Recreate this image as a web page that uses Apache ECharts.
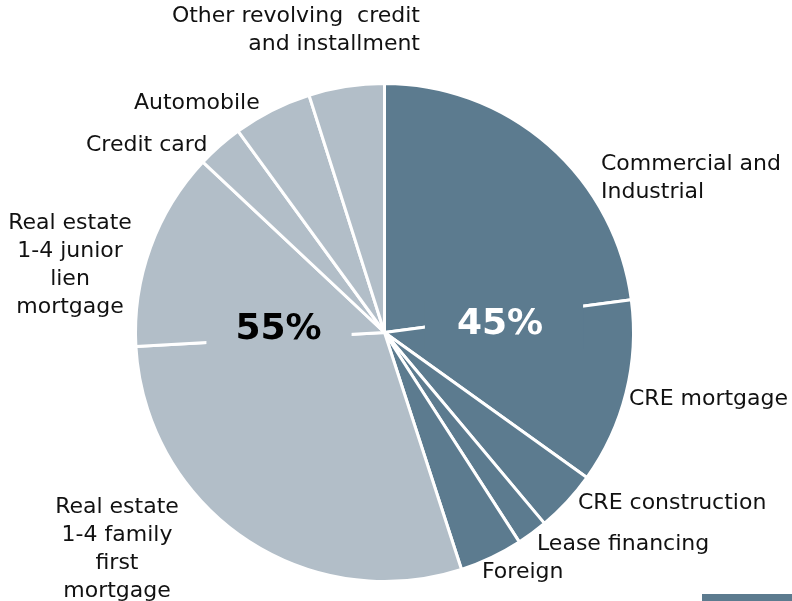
<!DOCTYPE html>
<html>
<head>
<meta charset="utf-8">
<script src="https://cdn.jsdelivr.net/npm/echarts@6/dist/echarts.min.js"></script>
<style>
  html, body { margin: 0; padding: 0; background: #fff; }
  #main { width: 792px; height: 601px; }
</style>
</head>
<body>
<div id="main"></div>
<script>
  // loan categories, clockwise from 12 o'clock
  const categories = [
    'Commercial and\nIndustrial',
    'CRE mortgage',
    'CRE construction',
    'Lease financing',
    'Foreign',
    'Real estate\n1-4 family\nfirst\nmortgage',
    'Real estate\n1-4 junior\nlien\nmortgage',
    'Credit card',
    'Automobile',
    'Other revolving  credit\nand installment'
  ]
  // share of total loans (%)
  const shares = [22.9, 12.0, 4.0, 2.0, 4.1, 29.1, 12.9, 3.0, 5.1, 4.9]
  // first 5 are commercial, rest consumer
  const commercialCount = 5

  const darkColor = '#5c7b8f'
  const lightColor = '#b2bec8'

  // where each category label sits: [x, y, align]
  const labelAnchors = [
    [601, 178, 'left'],
    [629, 399, 'left'],
    [578, 503, 'left'],
    [537, 544, 'left'],
    [482, 572, 'left'],
    [117, 549, 'center'],
    [70, 265, 'center'],
    [86, 145, 'left'],
    [134, 103, 'left'],
    [420, 30, 'right']
  ]
  // where the two group totals sit (centre of their boxes)
  const totalAnchors = [[504, 325], [279, 330]]

  const commercialTotal = shares.slice(0, commercialCount).reduce((a, b) => a + b, 0)
  const consumerTotal = shares.slice(commercialCount).reduce((a, b) => a + b, 0)

  const chart = echarts.init(document.getElementById('main'))

  const option = {
    animation: false,
    textStyle: { fontFamily: 'DejaVu Sans' },
    graphic: [{
      type: 'rect',
      shape: { x: 702, y: 594, width: 90, height: 7 },
      style: { fill: darkColor }
    }],
    series: [
      {
        type: 'pie',
        center: [384.5, 332.5],
        radius: 249,
        startAngle: 90,
        clockwise: true,
        avoidLabelOverlap: false,
        silent: true,
        itemStyle: { borderColor: '#fff', borderWidth: 3 },
        label: {
          show: true,
          position: 'outside',
          color: '#111',
          fontSize: 22,
          lineHeight: 28,
          fontFamily: 'DejaVu Sans'
        },
        labelLine: { show: false },
        labelLayout: function (params) {
          const a = labelAnchors[params.dataIndex]
          return { x: a[0], y: a[1], align: a[2], verticalAlign: 'middle' }
        },
        data: categories.map((name, i) => ({
          name: name,
          value: shares[i],
          itemStyle: { color: i < commercialCount ? darkColor : lightColor }
        }))
      },
      {
        // group totals, drawn on boxes that cut the slice borders
        type: 'pie',
        center: [384.5, 332.5],
        radius: 249,
        startAngle: 90,
        clockwise: true,
        silent: true,
        percentPrecision: 0,
        itemStyle: { color: 'transparent', borderWidth: 0 },
        label: {
          show: true,
          position: 'inside',
          formatter: '{d}%',
          fontSize: 36,
          fontWeight: 'bold',
          fontFamily: 'DejaVu Sans'
        },
        labelLine: { show: false },
        labelLayout: function (params) {
          const t = totalAnchors[params.dataIndex]
          return { x: t[0], y: t[1], align: 'center', verticalAlign: 'middle' }
        },
        data: [
          { name: 'Commercial', value: commercialTotal,
            label: { color: '#fff', backgroundColor: darkColor, padding: [6, 40, 6, 32] } },
          { name: 'Consumer', value: consumerTotal,
            label: { color: '#000', backgroundColor: lightColor, padding: [6, 30, 6, 29] } }
        ]
      }
    ]
  }

  chart.setOption(option)
</script>
</body>
</html>
